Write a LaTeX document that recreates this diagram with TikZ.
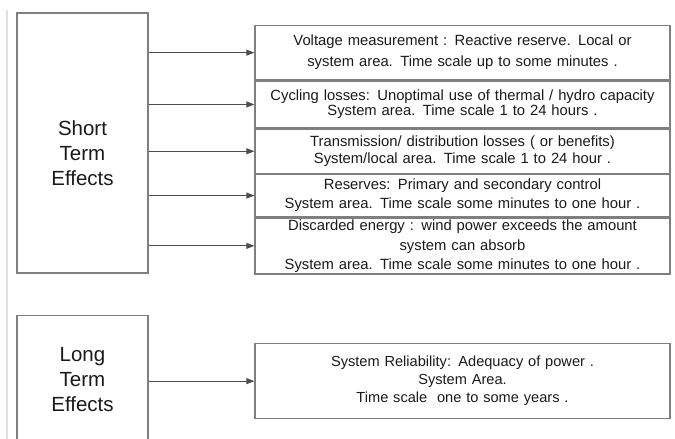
\documentclass[tikz,border=0pt]{standalone}
\usepackage{fontspec}
\setmainfont{Liberation Sans}
\usetikzlibrary{arrows.meta}
\definecolor{boxgray}{HTML}{7F7F7F}
\definecolor{arrgray}{HTML}{4D4D4D}
\definecolor{txtgray}{HTML}{1A1A1A}
\tikzset{
  effbox/.style={draw=boxgray, line width=1.3pt, minimum width=131pt, inner sep=0pt},
  efflabel/.style={align=center, text=txtgray, font=\fontsize{20.5}{25}\selectfont, inner sep=0pt},
  itembox/.style={draw=boxgray, line width=1.3pt, minimum width=415pt, text width=412pt,
    align=center, inner sep=0pt, anchor=north, text=txtgray, font=\fontsize{14.8}{17}\selectfont},
  link/.style={draw=arrgray, line width=1pt, -{Triangle[length=8pt,width=6pt]}}
}
\begin{document}
\begin{tikzpicture}[x=1pt, y=-1pt]
	\useasboundingbox (0,0) rectangle (675,439);
	\clip (0,0) rectangle (675,439);
	% thin rule on the left margin
	\draw[gray!25, line width=1.3pt] (7,10) -- (7,445);
	
	% Short term block
	\node[effbox, minimum height=260pt] (short) at (82.5,143) {};
	\node[efflabel] (shortlbl) at (82.5,153) {Short\\Term\\Effects};
	
	% effect boxes, stacked on each other
	\node[itembox, minimum height=54pt] (volt) at (462.5,25)
		{Voltage measurement : Reactive reserve. Local or\\[4pt] system area. Time scale up to some minutes .};
	\node[itembox, minimum height=47pt] (cyc) at (volt.south)
		{Cycling losses: Unoptimal use of thermal / hydro capacity\\[-2pt] System area. Time scale 1 to 24 hours .};
	\node[itembox, minimum height=44pt] (trans) at (cyc.south)
		{Transmission/ distribution losses ( or benefits)\\ System/local area. Time scale 1 to 24 hour .};
	\node[itembox, minimum height=42pt] (res) at (trans.south)
		{Reserves: Primary and secondary control\\[2pt] System area. Time scale some minutes to one hour .};
	\node[itembox, minimum height=56pt] (disc) at (res.south)
		{Discarded energy : wind power exceeds the amount\\[3pt] system can absorb\\[2pt] System area. Time scale some minutes to one hour .};
	
	% arrows from the short term block
	\foreach \b in {volt,cyc,trans,res,disc}
		\draw[link] (short.east |- \b.west) -- (\b.west);
	
	% Long term block (runs off the bottom)
	\node[effbox, minimum height=150pt, anchor=north] (long) at (82.5,315) {};
	\node[efflabel] (longlbl) at (82.5,380) {Long\\Term\\Effects};
	
	\node[itembox, minimum height=75pt, font=\fontsize{14.6}{18}\selectfont] (rel) at (462.5,343)
		{System Reliability: Adequacy of power .\\ System Area.\\ Time scale\ \ one to some years .};
	\draw[link] (long.east |- rel.west) -- (rel.west);
\end{tikzpicture}
\end{document}
